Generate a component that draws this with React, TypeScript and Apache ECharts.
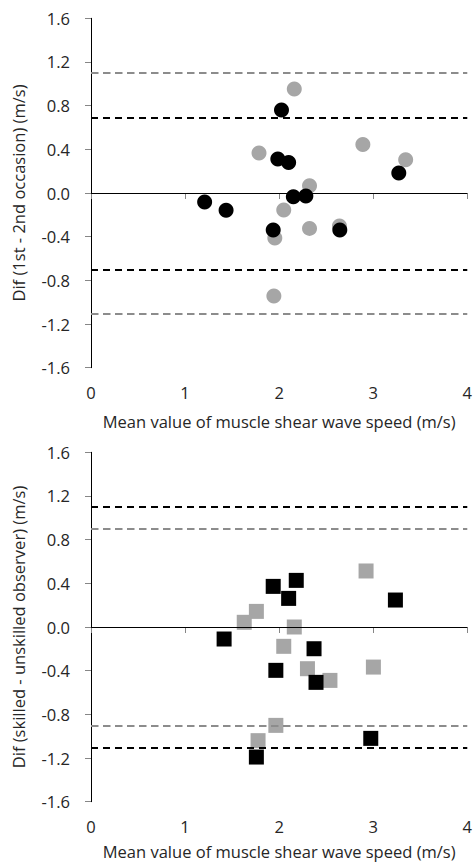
import React, { useEffect, useRef } from "react";
import * as echarts from "echarts";

// Top chart: repeatability (1st - 2nd occasion), circles
const topGrayX = [2.161, 1.786, 2.89, 3.345, 2.323, 2.049, 2.323, 2.641, 1.954, 1.944];
const topGrayY = [0.952, 0.366, 0.445, 0.305, 0.067, -0.156, -0.324, -0.302, -0.412, -0.943];
const topBlackX = [1.208, 1.436, 2.025, 1.986, 2.101, 2.151, 2.284, 1.937, 2.645, 3.272];
const topBlackY = [-0.082, -0.159, 0.76, 0.311, 0.28, -0.034, -0.028, -0.339, -0.339, 0.183];
const topGrayLimits = [1.105, -1.11];
const topBlackLimits = [0.69, -0.698];

// Bottom chart: skilled - unskilled observer, squares
const botGrayX = [2.924, 1.758, 1.629, 2.161, 2.049, 2.301, 3.002, 2.54, 1.965, 1.776];
const botGrayY = [0.513, 0.143, 0.043, 0.0, -0.177, -0.382, -0.367, -0.489, -0.901, -1.041];
const botBlackX = [1.415, 1.937, 2.182, 2.101, 3.236, 2.371, 1.965, 2.392, 2.974, 1.758];
const botBlackY = [-0.11, 0.372, 0.427, 0.262, 0.247, -0.199, -0.397, -0.507, -1.02, -1.191];
const botGrayLimits = [0.903, -0.904];
const botBlackLimits = [1.098, -1.113];

const xTitle = "Mean value of muscle shear wave speed (m/s)";
const topYTitle = "Dif (1st - 2nd occasion) (m/s)";
const botYTitle = "Dif (skilled - unskilled observer) (m/s)";

const FONT = "Open Sans";
const TEXT = "#262626";
const GRAY_MARK = "#a6a6a6";
const GRAY_LINE = "#8c8c8c";

const pairs = (xs: number[], ys: number[]) => xs.map((x, i) => [x, ys[i]]);

// pick the font size at which the x-axis title is ~353px wide, as in the reference
function fitFontSize(): number {
  try {
    const ctx = document.createElement("canvas").getContext("2d");
    if (!ctx) return 16;
    ctx.font = `100px "${FONT}"`;
    const w = ctx.measureText(xTitle).width;
    const fs = (353 / w) * 100;
    return Math.max(13, Math.min(18, fs));
  } catch (e) {
    return 16;
  }
}

function xAxis(gridIndex: number, fs: number, gap: number) {
  return {
    type: "value",
    gridIndex,
    min: 0,
    max: 4,
    interval: 1,
    name: xTitle,
    nameLocation: "middle",
    nameGap: gap,
    nameTextStyle: { fontFamily: FONT, fontSize: fs, color: TEXT },
    axisLine: { show: true, lineStyle: { color: "#868686", width: 1 } },
    axisTick: { show: true, length: 6, lineStyle: { color: "#868686" } },
    axisLabel: { fontFamily: FONT, fontSize: fs, color: TEXT, margin: 16 },
    splitLine: { show: false },
  };
}

function yAxis(gridIndex: number, name: string, fs: number) {
  return {
    type: "value",
    gridIndex,
    min: -1.6,
    max: 1.6,
    interval: 0.4,
    name,
    nameLocation: "middle",
    nameGap: 64,
    nameTextStyle: { fontFamily: FONT, fontSize: fs, color: TEXT },
    axisLine: { show: true, onZero: false, lineStyle: { color: "#000", width: 1 } },
    axisTick: { show: true, length: 6, lineStyle: { color: "#868686" } },
    axisLabel: {
      fontFamily: FONT,
      fontSize: fs,
      color: TEXT,
      margin: 21,
      formatter: (v: number) => v.toFixed(1),
    },
    splitLine: { show: false },
  };
}

function limitLines(gray: number[], black: number[]) {
  return {
    silent: true,
    symbol: "none",
    label: { show: false },
    data: [
      ...gray.map((v) => ({ yAxis: v, lineStyle: { color: GRAY_LINE, type: [7.5, 4.5], width: 2, opacity: 1 } })),
      ...black.map((v) => ({ yAxis: v, lineStyle: { color: "#000", type: [7, 5], width: 2, opacity: 1 } })),
      { yAxis: 0, lineStyle: { color: "#000", type: "solid", width: 1, opacity: 1 } },
    ],
  };
}

export default function App() {
  const ref = useRef<HTMLDivElement>(null);
  useEffect(() => {
    document.body.style.margin = "0";
    const fs = fitFontSize();
    const chart = echarts.init(ref.current!, undefined, { renderer: "svg" });
    chart.setOption({
      animation: false,
      backgroundColor: "#fff",
      grid: [
        { left: 91, right: 3.5, top: 18.3, height: 349.4 },
        { left: 91, right: 3.5, top: 452.3, height: 349.4 },
      ],
      xAxis: [xAxis(0, fs, 45), xAxis(1, fs, 41)],
      yAxis: [yAxis(0, topYTitle, fs), yAxis(1, botYTitle, fs)],
      series: [
        {
          type: "scatter",
          xAxisIndex: 0,
          yAxisIndex: 0,
          symbol: "circle",
          symbolSize: 15,
          itemStyle: { color: GRAY_MARK, opacity: 1 },
          data: pairs(topGrayX, topGrayY),
          markLine: limitLines(topGrayLimits, topBlackLimits),
          z: 2,
        },
        {
          type: "scatter",
          xAxisIndex: 0,
          yAxisIndex: 0,
          symbol: "circle",
          symbolSize: 15,
          itemStyle: { color: "#000", opacity: 1 },
          data: pairs(topBlackX, topBlackY),
          z: 3,
        },
        {
          type: "scatter",
          xAxisIndex: 1,
          yAxisIndex: 1,
          symbol: "rect",
          symbolSize: 15,
          itemStyle: { color: GRAY_MARK, opacity: 1 },
          data: pairs(botGrayX, botGrayY),
          markLine: limitLines(botGrayLimits, botBlackLimits),
          z: 2,
        },
        {
          type: "scatter",
          xAxisIndex: 1,
          yAxisIndex: 1,
          symbol: "rect",
          symbolSize: 15,
          itemStyle: { color: "#000", opacity: 1 },
          data: pairs(botBlackX, botBlackY),
          z: 3,
        },
      ],
    });
    return () => chart.dispose();
  }, []);
  return <div ref={ref} style={{ width: 475, height: 864 }} />;
}
